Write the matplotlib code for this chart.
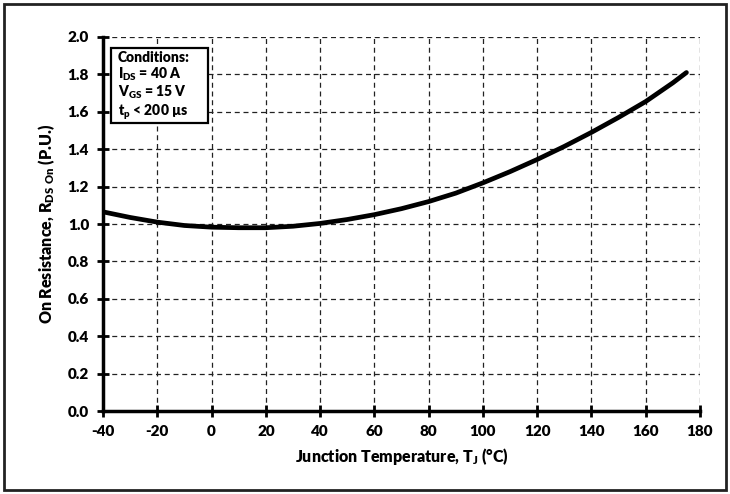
import matplotlib
matplotlib.use("Agg")
import matplotlib.pyplot as plt
from matplotlib.patches import Rectangle
import numpy as np

temps = [-40, -30, -20, -10, 0, 10, 20, 30, 40, 50, 60, 70, 80, 90, 100, 110, 120, 130, 140, 150, 160, 170, 175]
rds_on = [1.065, 1.035, 1.010, 0.992, 0.983, 0.980, 0.980, 0.988, 1.003, 1.024, 1.050, 1.082, 1.120, 1.165, 1.220, 1.280, 1.345, 1.415, 1.490, 1.570, 1.655, 1.755, 1.810]
x_ticks = [-40, -20, 0, 20, 40, 60, 80, 100, 120, 140, 160, 180]
y_ticks = [0.0, 0.2, 0.4, 0.6, 0.8, 1.0, 1.2, 1.4, 1.6, 1.8, 2.0]
conditions = ["Conditions:", "I$_{DS}$ = 40 A", "V$_{GS}$ = 15 V", "t$_{p}$ < 200 µs"]

plt.rcParams['font.family'] = ['Lato', 'DejaVu Sans']
plt.rcParams['font.weight'] = 'heavy'
plt.rcParams['mathtext.default'] = 'regular'

fig = plt.figure(figsize=(7.3, 4.94), dpi=100)
ax = fig.add_axes([103/730, 1 - 411/494, 597/730, 374/494])

ax.plot(temps, rds_on, color='black', lw=3.4, solid_capstyle='round', zorder=3)

ax.set_xlim(-40, 180)
ax.set_ylim(0, 2.0)
ax.set_xticks(x_ticks)
ax.set_yticks(y_ticks)
ax.set_xticklabels([str(t) for t in x_ticks], fontsize=11, fontweight='heavy')
ax.set_yticklabels([f"{v:.1f}" for v in y_ticks], fontsize=11, fontweight='heavy')
ax.grid(True, color='#222222', linestyle=(0, (4, 3)), linewidth=0.9)
ax.tick_params(direction='inout', length=8, width=2, pad=6)
for s in ['top', 'right']:
    ax.spines[s].set_visible(False)
for s in ['left', 'bottom']:
    ax.spines[s].set_linewidth(2.5)

ax.set_xlabel("Junction Temperature, T$_{J}$ (°C)", fontsize=11.5, fontweight='heavy', labelpad=6)
ax.set_ylabel("On Resistance, R$_{DS\\ On}$ (P.U.)", fontsize=11.5, fontweight='heavy', labelpad=8)

ax.add_patch(Rectangle((0.0134, 0.770), 0.163, 0.201, transform=ax.transAxes,
                       facecolor='white', edgecolor='black', linewidth=1.6, zorder=5))
ax.text(0.0245, 0.962, "\n".join(conditions), transform=ax.transAxes, fontsize=10,
        fontweight='heavy', va='top', ha='left', linespacing=1.08, zorder=6)

fig.patches.append(Rectangle((4/730, 4/494), 722/730, 486/494, transform=fig.transFigure,
                             fill=False, edgecolor='#222222', linewidth=2))

fig.savefig("out.png", dpi=100)
